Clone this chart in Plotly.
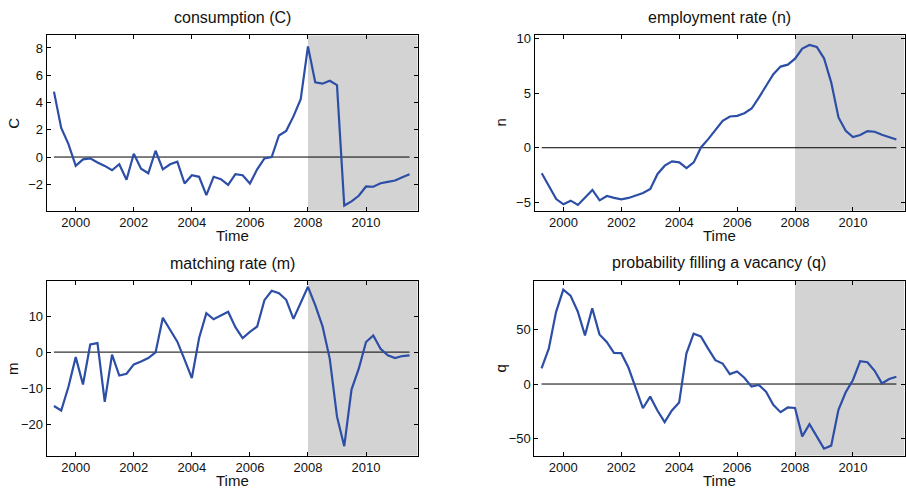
import plotly.graph_objects as go

# Quarterly time index, 1999Q2 .. 2011Q3
start_year = 1999.25
n_quarters = 50
time = [start_year + 0.25 * k for k in range(n_quarters)]

consumption = [4.8, 2.13, 0.95, -0.65, -0.17, -0.1, -0.4, -0.65, -0.97, -0.53,
               -1.67, 0.24, -0.85, -1.19, 0.46, -0.9, -0.53, -0.34, -1.94, -1.33,
               -1.45, -2.79, -1.45, -1.62, -2.04, -1.26, -1.33, -1.94, -0.9, -0.1,
               0.0, 1.58, 1.92, 2.98, 4.24, 8.12, 5.48, 5.38, 5.6, 5.28,
               -3.56, -3.25, -2.84, -2.16, -2.18, -1.92, -1.82, -1.72, -1.48, -1.26]

employment = [-2.34, -3.5, -4.69, -5.17, -4.84, -5.23, -4.56, -3.86, -4.81, -4.41,
              -4.59, -4.72, -4.59, -4.38, -4.14, -3.77, -2.4, -1.64, -1.25, -1.34,
              -1.86, -1.34, 0.03, 0.79, 1.61, 2.46, 2.86, 2.92, 3.16, 3.59,
              4.59, 5.72, 6.72, 7.42, 7.6, 8.15, 9.07, 9.4, 9.22, 8.18,
              5.96, 2.77, 1.55, 0.97, 1.16, 1.52, 1.46, 1.19, 0.97, 0.76]

matching = [-14.95, -16.2, -9.6, -1.4, -9.0, 2.1, 2.5, -13.8, -0.7, -6.5,
            -6.0, -3.4, -2.6, -1.65, -0.1, 9.5, 6.2, 2.9, -2.1, -7.2,
            3.9, 10.8, 9.1, 10.1, 11.2, 6.9, 3.9, 5.6, 7.1, 14.4,
            17.0, 16.3, 14.5, 9.2, 13.9, 18.1, 13.0, 7.2, -1.8, -17.9,
            -26.1, -10.4, -4.6, 2.8, 4.6, 0.9, -0.9, -1.65, -1.1, -0.9]

vacancy_fill = [14.3, 32.6, 66.2, 86.9, 81.4, 66.8, 44.8, 69.8, 45.7, 38.7,
                28.7, 28.4, 15.2, -4.0, -22.3, -11.6, -24.4, -35.1, -24.4, -17.1,
                28.0, 46.3, 43.9, 32.6, 22.0, 18.9, 9.1, 11.6, 5.8, -2.4,
                -0.9, -7.0, -19.2, -25.9, -21.6, -22.0, -48.2, -36.9, -47.6, -59.5,
                -56.7, -23.8, -7.6, 3.7, 21.0, 20.1, 12.2, 0.6, 4.6, 6.7]

titles = ["consumption (C)", "employment rate (n)",
          "matching rate (m)", "probability filling a vacancy (q)"]
ylabels = ["C", "n", "m", "q"]
series = [consumption, employment, matching, vacancy_fill]
yranges = [[-3.93, 8.92], [-5.75, 10.27], [-28.7, 19.7], [-65.9, 95.1]]
yticks = [[-2, 0, 2, 4, 6, 8], [-5, 0, 5, 10], [-20, -10, 0, 10], [-50, 0, 50]]
xticks = [2000, 2002, 2004, 2006, 2008, 2010]
xrange_ = [1999.0, 2011.78]
shade_start = 2008.0

LINE_BLUE = "#2d4ea6"
FONT = "Liberation Sans, Arial, Helvetica, sans-serif"

W, H = 906, 493
# panel boxes in pixels: (left, right, top, bottom)
boxes = [(46.7, 417.7, 31.7, 208.3), (534.5, 904.5, 31.7, 208.3),
         (46.7, 417.7, 279.3, 455.3), (534.3, 904.5, 279.0, 455.3)]

fig = go.Figure()
layout = dict(width=W, height=H, margin=dict(l=0, r=0, t=0, b=0),
              paper_bgcolor="white", plot_bgcolor="white",
              showlegend=False, font=dict(family=FONT, size=13, color="#111"))
shapes, annotations = [], []

for i in range(4):
    sfx = "" if i == 0 else str(i + 1)
    xa, ya = "x" + sfx, "y" + sfx
    l, r, t, b = boxes[i]
    xdom = [l / W, r / W]
    ydom = [1 - b / H, 1 - t / H]
    axis_common = dict(showline=True, linecolor="black", linewidth=1, mirror="ticks",
                       ticks="inside", ticklen=4, tickcolor="black", tickwidth=1,
                       showgrid=False, zeroline=False, fixedrange=True,
                       tickfont=dict(family=FONT, size=13, color="#111"))
    layout["xaxis" + sfx] = dict(domain=xdom, range=xrange_, tickvals=xticks,
                                 anchor=ya, **axis_common)
    layout["yaxis" + sfx] = dict(domain=ydom, range=yranges[i], tickvals=yticks[i],
                                 anchor=xa, **axis_common)

    # shaded recession period
    shapes.append(dict(type="rect", xref=xa, yref=ya + " domain",
                       x0=shade_start, x1=xrange_[1], y0=0, y1=1,
                       fillcolor="#d3d3d3", line=dict(width=0), layer="below"))

    # zero reference line across the data span
    fig.add_trace(go.Scatter(x=[time[0], time[-1]], y=[0, 0], mode="lines",
                             line=dict(color="black", width=1),
                             xaxis=xa, yaxis=ya, hoverinfo="skip"))
    fig.add_trace(go.Scatter(x=time, y=series[i], mode="lines",
                             line=dict(color=LINE_BLUE, width=2.2),
                             xaxis=xa, yaxis=ya))

    cx = (l + r) / 2 / W
    annotations.append(dict(text=titles[i], x=cx, y=1 - (t - 18) / H,
                            xref="paper", yref="paper", showarrow=False,
                            xanchor="center", yanchor="middle",
                            font=dict(family=FONT, size=16, color="#111")))
    annotations.append(dict(text="Time", x=cx, y=1 - (b + 25) / H,
                            xref="paper", yref="paper", showarrow=False,
                            xanchor="center", yanchor="middle",
                            font=dict(family=FONT, size=15, color="#111")))
    annotations.append(dict(text=ylabels[i], x=(l - 34) / W, y=1 - ((t + b) / 2) / H,
                            xref="paper", yref="paper", showarrow=False,
                            xanchor="center", yanchor="middle", textangle=-90,
                            font=dict(family=FONT, size=15, color="#111")))

layout["shapes"] = shapes
layout["annotations"] = annotations
fig.update_layout(**layout)
fig.write_html("out.html")
